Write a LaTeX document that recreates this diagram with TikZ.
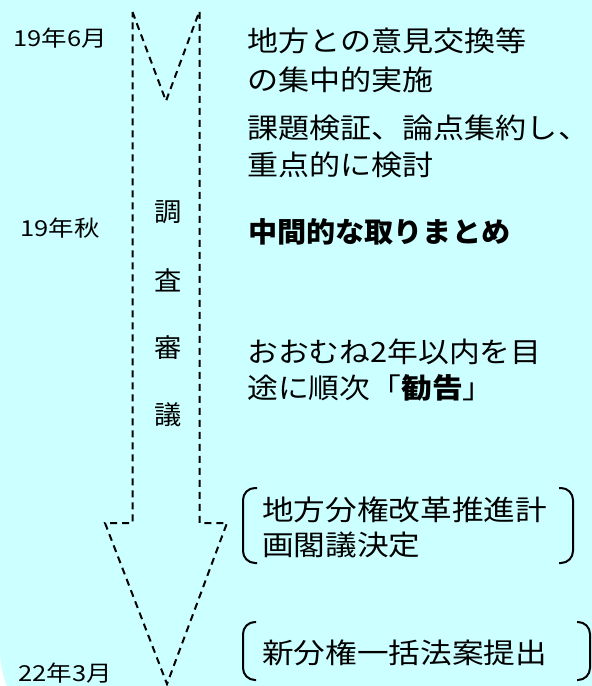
\documentclass[tikz,border=0pt]{standalone}
\usepackage{fontspec}
\usepackage{graphicx}
\setmainfont{Noto Sans CJK JP}
\definecolor{bgc}{HTML}{CCFFFF}
\newcommand\hsx[2]{\scalebox{#1}[1]{#2}}
\tikzset{
  big/.style={anchor=west,inner sep=0pt,font=\fontsize{28pt}{32pt}\selectfont},
  bigb/.style={anchor=west,inner sep=0pt,font=\fontsize{28pt}{32pt}\selectfont\bfseries},
  date/.style={anchor=west,inner sep=0pt,font=\fontsize{22pt}{26pt}\selectfont},
  vert/.style={inner sep=0pt,font=\fontsize{26pt}{30pt}\selectfont},
  arrowline/.style={draw=black,line width=2pt,dash pattern=on 7pt off 5pt},
  brack/.style={draw=black,line width=2pt,rounded corners=12pt}
}
\begin{document}
\begin{tikzpicture}[x=1pt,y=-1pt]
\useasboundingbox (0,0) rectangle (592,686);
\clip (0,0) rectangle (592,686);
\fill[bgc,rounded corners=96pt] (0,-200) rectangle (800,746);

% arrow outline
\coordinate (tl) at (132.5,12);
\coordinate (notch) at (166,101);
\coordinate (tr) at (199.5,11);
\coordinate (sr) at (199.5,523);
\coordinate (wr) at (227,523);
\coordinate (tip) at (167,684);
\coordinate (wl) at (105,523);
\coordinate (sl) at (132.5,523);
\draw[arrowline] (tl) -- (notch) -- (tr) -- (sr) -- (wr) -- (tip) -- (wl) -- (sl) -- cycle;

% dates
\node[date] (d1) at (13,38) {\hsx{1.16}{19年6月}};
\node[date] (d2) at (20,228) {\hsx{1.16}{19年秋}};
\node[date] (d3) at (18,673) {\hsx{1.16}{22年3月}};

% vertical label
\node[vert] (v1) at (168,212) {\hsx{1.05}{調}};
\node[vert] (v2) at (168,280) {\hsx{1.05}{査}};
\node[vert] (v3) at (168,348) {\hsx{1.05}{審}};
\node[vert] (v4) at (168,415) {\hsx{1.05}{議}};

% right texts
\node[big] (t1) at (247,41) {\hsx{1.11}{地方との意見交換等}};
\node[big] (t2) at (247,79.5) {\hsx{1.11}{の集中的実施}};
\node[big] (t3) at (247,127.5) {\hsx{1.11}{課題検証、論点集約し、}};
\node[big] (t4) at (247,164.5) {\hsx{1.11}{重点的に検討}};
\node[bigb] (t5) at (248,232) {\hsx{1.04}{中間的な取りまとめ}};
\node[big] (t6) at (247,352) {\hsx{1.1}{おおむね2年以内を目}};
\node[big] (t7) at (247,388) {\hsx{1.1}{途に順次「\textbf{勧告}」}};

% bracket 1
\draw[brack] (257,488) -- (243,488) -- (243,563) -- (257,563);
\draw[brack] (559,488) -- (573,488) -- (573,563) -- (559,563);
\node[big] (b1) at (262,510) {\hsx{1.13}{地方分権改革推進計}};
\node[big] (b2) at (262,545) {\hsx{1.13}{画閣議決定}};

% bracket 2
\draw[brack] (256,622) -- (243,622) -- (243,680) -- (256,680);
\draw[brack] (577,622) -- (590,622) -- (590,680) -- (577,680);
\node[big] (b3) at (262,653) {\hsx{1.13}{新分権一括法案提出}};
\end{tikzpicture}
\end{document}
